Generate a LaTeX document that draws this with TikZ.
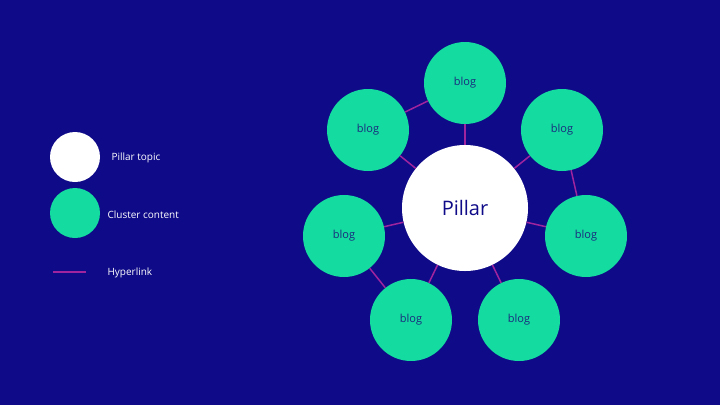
\documentclass[tikz,border=0pt]{standalone}
\usepackage{fontspec}
\setmainfont{Open Sans}
\definecolor{bg}{HTML}{0E0A88}
\definecolor{grn}{HTML}{14DBA0}
\definecolor{lnk}{HTML}{A0249E}
\definecolor{txt}{HTML}{1A2A7E}
\begin{document}
\begin{tikzpicture}[x=1pt,y=-1pt,
  blog/.style={circle,fill=grn,minimum size=82pt,inner sep=0pt,text=txt,font=\fontsize{11}{13}\selectfont},
  pillar/.style={circle,fill=white,minimum size=126pt,inner sep=0pt,text=bg,font=\fontsize{20}{24}\selectfont},
  link/.style={lnk,line width=1.5pt},
  legtext/.style={anchor=west,text=white,font=\fontsize{10}{12}\selectfont}]
\fill[bg] (0,0) rectangle (720,405);
\useasboundingbox (0,0) rectangle (720,405);
\node[pillar] (p) at (465,208) {Pillar};
\node[blog] (t) at (465,83) {blog};
\node[blog] (ul) at (368,130) {blog};
\node[blog] (ur) at (562,130) {blog};
\node[blog] (l) at (344,236) {blog};
\node[blog] (r) at (586,236) {blog};
\node[blog] (bl) at (411,320) {blog};
\node[blog] (br) at (519,320) {blog};
\begin{scope}[on background layer/.style={}]
\end{scope}
\foreach \b in {t,ul,ur,l,r,bl,br} \draw[link] (p) -- (\b);
\draw[link] (t) -- (ul);
\draw[link] (ur) -- (r);
\draw[link] (l) -- (bl);
% legend
\node[circle,fill=white,minimum size=50pt,inner sep=0pt] (lp) at (75,157) {};
\node[circle,fill=grn,minimum size=50pt,inner sep=0pt] (lc) at (75,213) {};
\coordinate (la) at (53,272);
\coordinate (lb) at (86,272);
\draw[link] (la) -- (lb);
\node[legtext] (tp) at (108,158) {Pillar topic};
\node[legtext] (tc) at (104,215) {Cluster content};
\node[legtext] (th) at (104,273) {Hyperlink};
\end{tikzpicture}
\end{document}
